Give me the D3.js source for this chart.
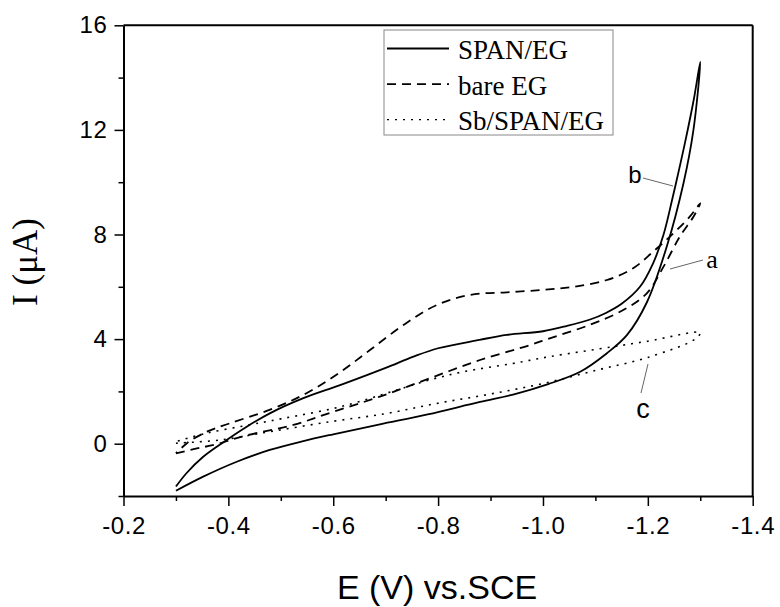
<!DOCTYPE html>
<html>
<head>
<meta charset="utf-8">
<script src="https://cdn.jsdelivr.net/npm/d3@7"></script>
<style>
  body { margin: 0; background: #fff; }
  svg { display: block; }
</style>
</head>
<body>
<svg id="chart" width="780" height="607"></svg>
<script>
// potential sweep -0.3 -> -1.3 V and back, [E (V), I (µA)]
var spanEG = [
  [-0.300, -1.80], [-0.352, -1.26], [-0.416, -0.69], [-0.479, -0.24], [-0.543, 0.10],
  [-0.600, 0.36], [-0.689, 0.74], [-0.780, 1.12], [-0.880, 1.60], [-0.943, 1.88],
  [-1.010, 2.28], [-1.071, 2.75], [-1.122, 3.46], [-1.160, 4.15], [-1.198, 5.40],
  [-1.236, 7.53], [-1.268, 9.96], [-1.287, 12.0], [-1.300, 14.6],
  [-1.288, 13.2], [-1.275, 11.9], [-1.262, 10.7], [-1.246, 9.3], [-1.230, 8.0],
  [-1.210, 6.9], [-1.185, 6.0], [-1.150, 5.35], [-1.120, 5.0], [-1.090, 4.75],
  [-1.045, 4.5], [-1.000, 4.3], [-0.931, 4.16], [-0.879, 3.97], [-0.800, 3.65],
  [-0.753, 3.33], [-0.700, 2.90], [-0.613, 2.24], [-0.543, 1.74], [-0.479, 1.16],
  [-0.435, 0.65], [-0.390, 0.05], [-0.352, -0.50], [-0.320, -1.13], [-0.300, -1.64]
];

var bareEG = [
  [-0.300, -0.37], [-0.340, -0.18], [-0.378, -0.02], [-0.429, 0.29], [-0.524, 0.72],
  [-0.600, 1.22], [-0.689, 1.80], [-0.784, 2.50], [-0.880, 3.20], [-0.975, 3.77],
  [-1.013, 4.03], [-1.090, 4.55], [-1.153, 5.11], [-1.198, 5.75], [-1.230, 6.77],
  [-1.261, 7.92], [-1.287, 8.68], [-1.300, 9.19],
  [-1.280, 8.68], [-1.249, 8.05], [-1.210, 7.34], [-1.172, 6.71], [-1.122, 6.26],
  [-1.058, 6.00], [-1.000, 5.88], [-0.931, 5.79], [-0.861, 5.69], [-0.797, 5.30],
  [-0.734, 4.54], [-0.670, 3.58], [-0.610, 2.69], [-0.549, 1.93], [-0.486, 1.35],
  [-0.403, 0.78], [-0.359, 0.46], [-0.321, 0.02], [-0.300, -0.37]
];

var sbSpanEG = [
  [-0.300, 0.02], [-0.384, 0.14], [-0.479, 0.46], [-0.594, 0.84], [-0.700, 1.15],
  [-0.800, 1.55], [-0.900, 1.90], [-1.000, 2.30], [-1.100, 2.80], [-1.200, 3.30],
  [-1.290, 4.00], [-1.300, 4.25],
  [-1.200, 3.92], [-1.134, 3.71], [-1.013, 3.33], [-0.943, 3.07], [-0.848, 2.75],
  [-0.784, 2.44], [-0.721, 2.05], [-0.613, 1.41], [-0.500, 0.95], [-0.435, 0.70],
  [-0.358, 0.40], [-0.300, 0.08]
];

var xMajor = [-0.2, -0.4, -0.6, -0.8, -1.0, -1.2, -1.4];
var xMinor = [-0.3, -0.5, -0.7, -0.9, -1.1, -1.3];
var yMajor = [0, 4, 8, 12, 16];
var yMinor = [-2, 2, 6, 10, 14];

var legendNames = ["SPAN/EG", "bare EG", "Sb/SPAN/EG"];
var dashes = [null, "9,6", "2,6"];

var svg = d3.select("#chart");

var x = d3.scaleLinear().domain([-0.2, -1.4]).range([123.5, 752.7]);
var y = d3.scaleLinear().domain([-2, 16]).range([496, 25.3]);

var sans = "'Liberation Sans', Arial, sans-serif";
var serif = "'Liberation Serif', 'Times New Roman', serif";

// frame
svg.append("line").attr("x1", x(-0.2)).attr("x2", x(-1.4)).attr("y1", y(16)).attr("y2", y(16))
  .attr("stroke", "#000").attr("stroke-width", 2);
svg.append("line").attr("x1", x(-1.4)).attr("x2", x(-1.4)).attr("y1", y(16)).attr("y2", y(-2))
  .attr("stroke", "#000").attr("stroke-width", 2);

// minor ticks first
svg.append("g").attr("transform", "translate(0," + y(-2) + ")")
  .call(d3.axisBottom(x).tickValues(xMinor).tickSize(5).tickFormat(""))
  .call(g => g.select(".domain").remove())
  .selectAll("line").attr("stroke-width", 1.5);
svg.append("g").attr("transform", "translate(" + x(-0.2) + ",0)")
  .call(d3.axisLeft(y).tickValues(yMinor).tickSize(5).tickFormat(""))
  .call(g => g.select(".domain").remove())
  .selectAll("line").attr("stroke-width", 1.5);

var xAxis = svg.append("g").attr("transform", "translate(0," + y(-2) + ")")
  .call(d3.axisBottom(x).tickValues(xMajor).tickSize(10).tickPadding(11)
    .tickFormat(d => d.toFixed(1)).tickSizeOuter(0));
var yAxis = svg.append("g").attr("transform", "translate(" + x(-0.2) + ",0)")
  .call(d3.axisLeft(y).tickValues(yMajor).tickSize(9).tickPadding(7)
    .tickFormat(d => d).tickSizeOuter(0));

[xAxis, yAxis].forEach(g => {
  g.select(".domain").attr("stroke-width", 2);
  g.selectAll(".tick line").attr("stroke-width", 1.5);
  g.selectAll("text").attr("font-family", sans).attr("font-size", 24)
    .attr("letter-spacing", 0.6).attr("fill", "#000");
});

// curves
var line = d3.line().x(d => x(d[0])).y(d => y(d[1])).curve(d3.curveCatmullRom.alpha(0.5));
var plot = svg.append("g");
[spanEG, bareEG, sbSpanEG].forEach((s, i) => {
  plot.append("path").attr("d", line(s))
    .attr("fill", "none").attr("stroke", "#000")
    .attr("stroke-width", i == 2 ? 1.6 : 1.8)
    .attr("stroke-dasharray", dashes[i]);
});

// legend
var lg = svg.append("g");
lg.append("rect").attr("x", 384).attr("y", 30).attr("width", 229).attr("height", 105)
  .attr("fill", "none").attr("stroke", "#888").attr("stroke-width", 1);
legendNames.forEach((n, i) => {
  var yy = 48.5 + i * 35.6;
  lg.append("line").attr("x1", 387).attr("x2", 449).attr("y1", yy).attr("y2", yy)
    .attr("stroke", "#000").attr("stroke-width", i == 2 ? 1.3 : 1.8)
    .attr("stroke-dasharray", dashes[i]);
  lg.append("text").attr("x", 458).attr("y", yy + 10.5).text(n)
    .attr("font-family", serif).attr("font-size", 27);
});

// curve labels with leaders
var ann = svg.append("g");
ann.append("line").attr("x1", 643).attr("y1", 178).attr("x2", 673).attr("y2", 186)
  .attr("stroke", "#666").attr("stroke-width", 1);
ann.append("text").attr("x", 635).attr("y", 183).attr("text-anchor", "middle").text("b")
  .attr("font-family", sans).attr("font-size", 24);
ann.append("line").attr("x1", 703).attr("y1", 260).attr("x2", 670).attr("y2", 269)
  .attr("stroke", "#666").attr("stroke-width", 1);
ann.append("text").attr("x", 712).attr("y", 268).attr("text-anchor", "middle").text("a")
  .attr("font-family", serif).attr("font-size", 26);
ann.append("line").attr("x1", 648).attr("y1", 364).attr("x2", 641).attr("y2", 393)
  .attr("stroke", "#666").attr("stroke-width", 1);
ann.append("text").attr("x", 643).attr("y", 418).attr("text-anchor", "middle").text("c")
  .attr("font-family", sans).attr("font-size", 27);

// axis titles
svg.append("text").attr("x", 437).attr("y", 599).attr("text-anchor", "middle")
  .attr("font-family", sans).attr("font-size", 34).text("E (V) vs.SCE");
svg.append("text").attr("transform", "translate(37,262) rotate(-90)")
  .attr("text-anchor", "middle").attr("font-family", serif).attr("font-size", 35)
  .text("I (μA)");
</script>
</body>
</html>
